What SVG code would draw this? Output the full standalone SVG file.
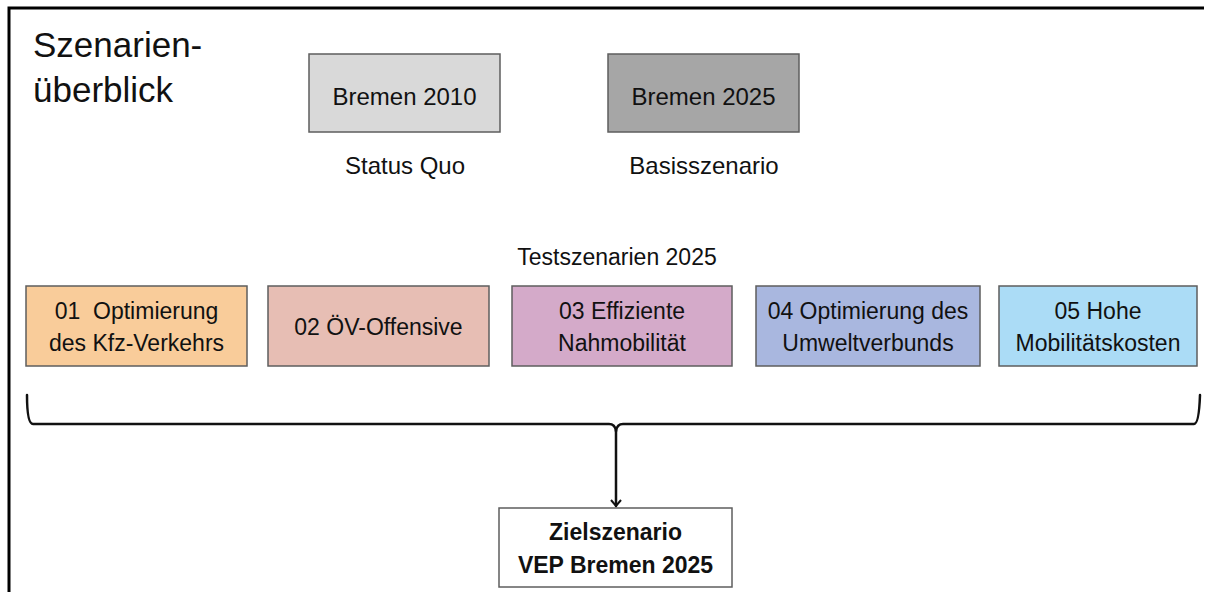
<svg xmlns="http://www.w3.org/2000/svg" width="1206" height="592" viewBox="0 0 1206 592">
<defs>
<style>
text{font-family:"Liberation Sans",Arial,sans-serif;fill:#111;white-space:pre;}
.t{font-size:23px;text-anchor:middle;}
.b{font-size:23px;text-anchor:middle;font-weight:bold;}
.box{stroke:#5e5e5e;stroke-width:1.5;}
.con{fill:none;stroke:#111;stroke-width:2.5;stroke-linecap:round;stroke-linejoin:round;}
</style>
<marker id="arr" markerWidth="12" markerHeight="12" refX="6" refY="9" orient="0" markerUnits="userSpaceOnUse">
<path d="M1,3 L6,9 L11,3" fill="none" stroke="#111" stroke-width="2"/>
</marker>
</defs>
<rect width="1206" height="592" fill="#fff"/>
<g id="frame">
<path d="M9,592 V8 H1204" fill="none" stroke="#000" stroke-width="3"/>
</g>
<g id="title">
<text x="33" y="57" style="font-size:35px">Szenarien-</text>
<text x="33" y="102" style="font-size:35px">überblick</text>
</g>
<g id="bremen2010">
<rect class="box" x="309" y="54" width="191" height="78" fill="#d9d9d9"/>
<text class="t" x="404.5" y="105" style="font-size:24px">Bremen 2010</text>
<text class="t" x="405" y="174" style="font-size:24px">Status Quo</text>
</g>
<g id="bremen2025">
<rect class="box" x="608" y="54" width="191" height="78" fill="#a6a6a6"/>
<text class="t" x="703.5" y="105" style="font-size:24px">Bremen 2025</text>
<text class="t" x="704" y="174" style="font-size:24px">Basisszenario</text>
</g>
<g id="testszenarien">
<text class="t" x="617" y="265">Testszenarien 2025</text>
</g>
<g id="s01">
<rect class="box" x="26" y="286" width="221" height="80" fill="#f9cc9a"/>
<text class="t" x="136.5" y="319" xml:space="preserve">01  Optimierung</text>
<text class="t" x="136.5" y="351">des Kfz-Verkehrs</text>
</g>
<g id="s02">
<rect class="box" x="268" y="286" width="221" height="80" fill="#e7beb4"/>
<text class="t" x="378.5" y="335">02 ÖV-Offensive</text>
</g>
<g id="s03">
<rect class="box" x="512" y="286" width="220" height="80" fill="#d4aac9"/>
<text class="t" x="622" y="319">03 Effiziente</text>
<text class="t" x="622" y="351">Nahmobilität</text>
</g>
<g id="s04">
<rect class="box" x="756" y="286" width="224" height="80" fill="#a9b7df"/>
<text class="t" x="868" y="319">04 Optimierung des</text>
<text class="t" x="868" y="351">Umweltverbunds</text>
</g>
<g id="s05">
<rect class="box" x="999" y="286" width="198" height="80" fill="#abdcf6"/>
<text class="t" x="1098" y="319">05 Hohe</text>
<text class="t" x="1098" y="351">Mobilitätskosten</text>
</g>
<g id="connectors">
<path class="con" d="M27,395 Q27,424 33,424 L609,424 Q615,424 616,431"/>
<path class="con" d="M1200,395 Q1199,424 1194,424 L623,424 Q617,424 616,431"/>
<path class="con" d="M616,431 V506" marker-end="url(#arr)"/>
</g>
<g id="ziel">
<rect class="box" x="499" y="508" width="233" height="79" fill="#fff"/>
<text class="b" x="615.5" y="540">Zielszenario</text>
<text class="b" x="615.5" y="573">VEP Bremen 2025</text>
</g>
</svg>
